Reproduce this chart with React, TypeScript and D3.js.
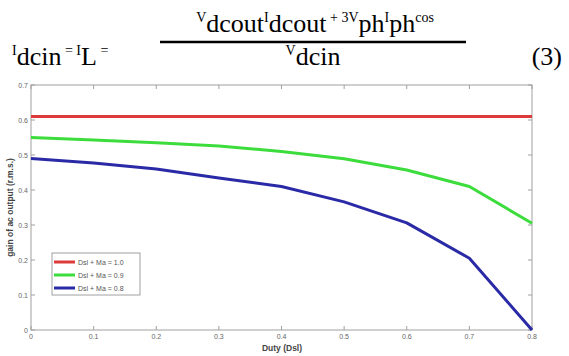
import React from "react";
import * as d3 from "d3";

const duty = [0, 0.1, 0.2, 0.3, 0.4, 0.5, 0.6, 0.7, 0.8];
const seriesRed = [0.61, 0.61, 0.61, 0.61, 0.61, 0.61, 0.61, 0.61, 0.61];
const seriesGreen = [0.55, 0.543, 0.535, 0.526, 0.51, 0.489, 0.457, 0.41, 0.305];
const seriesBlue = [0.49, 0.477, 0.46, 0.434, 0.41, 0.366, 0.306, 0.205, 0];
const legendLabels = ["Dsl + Ma = 1.0", "Dsl + Ma = 0.9", "Dsl + Ma = 0.8"];
const xTicks = [0, 0.1, 0.2, 0.3, 0.4, 0.5, 0.6, 0.7, 0.8];
const yTicks = [0, 0.1, 0.2, 0.3, 0.4, 0.5, 0.6, 0.7];
const xTitle = "Duty (Dsl)";
const yTitle = "gain of ac output (r.m.s.)";

const colors = ["#dd3b3b", "#3ddc3d", "#2a2aa6"];

export default function App() {
  const W = 569, H = 356;
  const left = 31, right = 532, top = 85, bottom = 330;
  const x = d3.scaleLinear().domain([0, 0.8]).range([left, right]);
  const y = d3.scaleLinear().domain([0, 0.7]).range([bottom, top]);
  const line = d3.line<number>().x((_, i) => x(duty[i])).y((d) => y(d));
  const series = [seriesRed, seriesGreen, seriesBlue];
  const fmt = (v: number) => (v === 0 ? "0" : d3.format(".1f")(v));
  const serifStyle = { fontFamily: "'Liberation Serif', 'Times New Roman', 'DejaVu Serif', serif" };
  const sans = "'Liberation Sans', Arial, sans-serif";
  const axisCol = "#a0a0a0";
  const tickLen = 4;

  return (
    <svg width={W} height={H} style={{ position: "absolute", left: 0, top: 0, background: "#fff" }}>
      {/* Equation */}
      <g fill="#000">
        <text x={12} y={65} fontSize={26} style={serifStyle}>
          <tspan fontSize={14} dy={-10}>I</tspan>
          <tspan dy={10}>dcin</tspan>
          <tspan fontSize={14} dy={-10}> = I</tspan>
          <tspan dy={10}>L</tspan>
          <tspan fontSize={14} dy={-10}> =</tspan>
        </text>
        <text x={315} y={32} fontSize={26} textAnchor="middle" style={serifStyle}>
          <tspan fontSize={14} dy={-10}>V</tspan>
          <tspan dy={10}>dcout</tspan>
          <tspan fontSize={14} dy={-10}>I</tspan>
          <tspan dy={10}>dcout</tspan>
          <tspan fontSize={14} dy={-10}> + 3V</tspan>
          <tspan dy={10}>ph</tspan>
          <tspan fontSize={14} dy={-10}>I</tspan>
          <tspan dy={10}>ph</tspan>
          <tspan fontSize={14} dy={-10}>cos</tspan>
        </text>
        <line x1={160} x2={466} y1={42} y2={42} stroke="#000" strokeWidth={2.5} />
        <text x={313} y={65} fontSize={26} textAnchor="middle" style={serifStyle}>
          <tspan fontSize={14} dy={-10}>V</tspan>
          <tspan dy={10}>dcin</tspan>
        </text>
        <text x={562} y={65} fontSize={26} textAnchor="end" style={serifStyle}>(3)</text>
      </g>

      {/* Axes box */}
      <rect x={left} y={top} width={right - left} height={bottom - top} fill="#fff" stroke={axisCol} strokeWidth={1} />
      {xTicks.map((t) => (
        <g key={"xt" + t}>
          <line x1={x(t)} x2={x(t)} y1={bottom} y2={bottom - tickLen} stroke={axisCol} />
          <line x1={x(t)} x2={x(t)} y1={top} y2={top + tickLen} stroke={axisCol} />
          <text x={x(t)} y={bottom + 9} fontSize={7} fontFamily={sans} fill="#666" textAnchor="middle">
            {fmt(t)}
          </text>
        </g>
      ))}
      {yTicks.map((t) => (
        <g key={"yt" + t}>
          <line x1={left} x2={left + tickLen} y1={y(t)} y2={y(t)} stroke={axisCol} />
          <line x1={right} x2={right - tickLen} y1={y(t)} y2={y(t)} stroke={axisCol} />
          <text x={left - 3} y={y(t) + 2.5} fontSize={7} fontFamily={sans} fill="#666" textAnchor="end">
            {fmt(t)}
          </text>
        </g>
      ))}

      {/* Lines */}
      {series.map((s, i) => (
        <path key={"s" + i} d={line(s) || ""} fill="none" stroke={colors[i]} strokeWidth={3} strokeLinejoin="round" />
      ))}

      {/* Legend */}
      <rect x={52} y={253} width={88} height={42} fill="#fff" stroke={axisCol} strokeWidth={1} />
      {legendLabels.map((lab, i) => (
        <g key={"lg" + i}>
          <line x1={54} x2={75} y1={262 + i * 13} y2={262 + i * 13} stroke={colors[i]} strokeWidth={3} />
          <text x={78} y={264.5 + i * 13} fontSize={7} fontFamily={sans} fill="#555">
            {lab}
          </text>
        </g>
      ))}

      {/* Titles */}
      <text x={282} y={351} fontSize={8.5} fontWeight="bold" fontFamily={sans} fill="#444" textAnchor="middle">
        {xTitle}
      </text>
      <text
        transform={`translate(13, ${(top + bottom) / 2}) rotate(-90)`}
        fontSize={8.5}
        fontWeight="bold"
        fontFamily={sans}
        fill="#444"
        textAnchor="middle"
      >
        {yTitle}
      </text>
    </svg>
  );
}
